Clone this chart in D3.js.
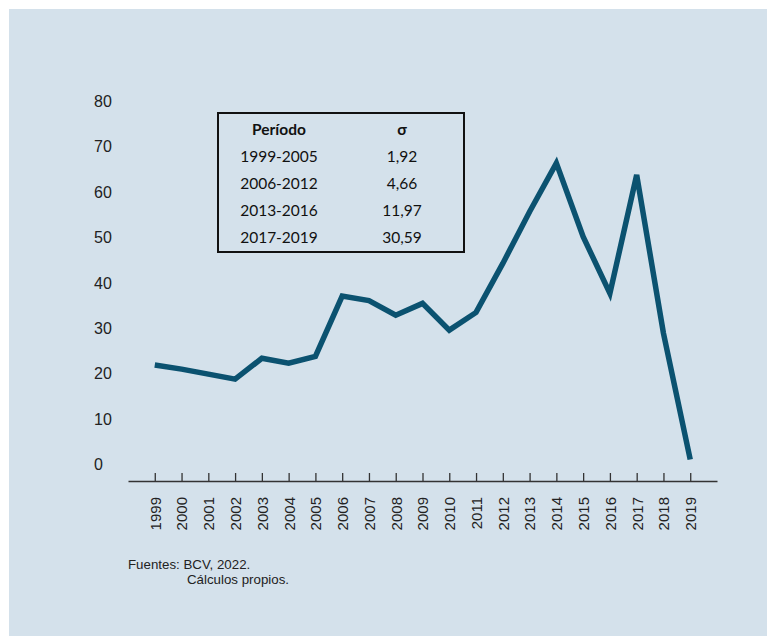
<!DOCTYPE html>
<html>
<head>
<meta charset="utf-8">
<script src="https://cdn.jsdelivr.net/npm/d3@7"></script>
<style>
  body { margin: 0; background: #fff; }
  svg { display: block; }
  .axis text { font-family: "Liberation Sans", Arial, sans-serif; fill: #222; }
  .tbl text { font-family: Lato, "Open Sans", sans-serif; fill: #111; }
</style>
</head>
<body>
<div id="chart"></div>
<script>
const years = ["1999","2000","2001","2002","2003","2004","2005","2006","2007","2008","2009",
  "2010","2011","2012","2013","2014","2015","2016","2017","2018","2019"];
const values = [21.8, 20.9, 19.8, 18.7, 23.3, 22.2, 23.7, 37.0, 36.0, 32.8, 35.4,
  29.5, 33.4, 44.2, 55.6, 66.3, 50.1, 37.6, 63.7, 28.8, 1.0];
const yTicks = [0, 10, 20, 30, 40, 50, 60, 70, 80];
const periods = ["1999-2005", "2006-2012", "2013-2016", "2017-2019"];
const sigmas = ["1,92", "4,66", "11,97", "30,59"];
const sources = ["Fuentes: BCV, 2022.", "Cálculos propios."];

const width = 767, height = 637;
const svg = d3.select("#chart").append("svg")
  .attr("width", width).attr("height", height);

// panel background
svg.append("rect")
  .attr("x", 9).attr("y", 9)
  .attr("width", width - 9).attr("height", height - 10)
  .attr("fill", "#d4e1eb");

const x = d3.scalePoint().domain(years).range([128, 717]).padding(1);
// axis line sits a bit below zero
const y = d3.scaleLinear().domain([-3.75, 80]).range([481, 101]);

// y labels (no axis line, left aligned)
const yAxis = svg.append("g")
  .attr("class", "axis y-axis")
  .attr("transform", "translate(94,0)")
  .call(d3.axisRight(y).tickValues(yTicks).tickSize(0).tickPadding(0));
yAxis.select(".domain").remove();
yAxis.selectAll("text").attr("font-size", 16).attr("dy", "0.35em");

// x axis with upward ticks
const xAxis = svg.append("g")
  .attr("class", "axis x-axis")
  .attr("transform", `translate(0,${y(-3.75)})`)
  .call(d3.axisBottom(x).tickSizeInner(-8).tickSizeOuter(0).tickPadding(0));
xAxis.select(".domain").attr("stroke", "#333").attr("stroke-width", 1.5);
xAxis.selectAll(".tick line").attr("stroke", "#333").attr("stroke-width", 1.3);
xAxis.selectAll("text")
  .attr("font-size", 15)
  .attr("transform", "rotate(-90)")
  .attr("text-anchor", "end")
  .attr("x", -16).attr("y", 0)
  .attr("dy", "0.36em");

// line
const line = d3.line()
  .x((d, i) => x(years[i]))
  .y(d => y(d));
svg.append("path")
  .datum(values)
  .attr("fill", "none")
  .attr("stroke", "#0b5270")
  .attr("stroke-width", 5.5)
  .attr("stroke-linejoin", "miter")
  .attr("d", line);

// sigma table
const tbl = svg.append("g").attr("class", "tbl");
tbl.append("rect")
  .attr("x", 218).attr("y", 113)
  .attr("width", 246).attr("height", 139)
  .attr("fill", "none").attr("stroke", "#111").attr("stroke-width", 2);
const rowY = d3.scalePoint().domain(d3.range(periods.length + 1)).range([130, 238]);
tbl.append("text").attr("x", 279).attr("y", rowY(0)).attr("dy", "0.35em")
  .attr("text-anchor", "middle").attr("font-size", 15.5).attr("font-weight", "bold")
  .text("Período");
tbl.append("text").attr("x", 402).attr("y", rowY(0)).attr("dy", "0.35em")
  .attr("text-anchor", "middle").attr("font-size", 15.5).attr("font-weight", "bold")
  .text("σ");
periods.forEach((p, i) => {
  tbl.append("text").attr("x", 279).attr("y", rowY(i + 1)).attr("dy", "0.35em")
    .attr("text-anchor", "middle").attr("font-size", 15.5).text(p);
  tbl.append("text").attr("x", 402).attr("y", rowY(i + 1)).attr("dy", "0.35em")
    .attr("text-anchor", "middle").attr("font-size", 15.5).text(sigmas[i]);
});

// sources
const foot = svg.append("g").attr("class", "axis");
foot.append("text").attr("x", 128).attr("y", 569).attr("font-size", 13.3).text(sources[0]);
foot.append("text").attr("x", 187).attr("y", 584).attr("font-size", 13.3).text(sources[1]);
</script>
</body>
</html>
